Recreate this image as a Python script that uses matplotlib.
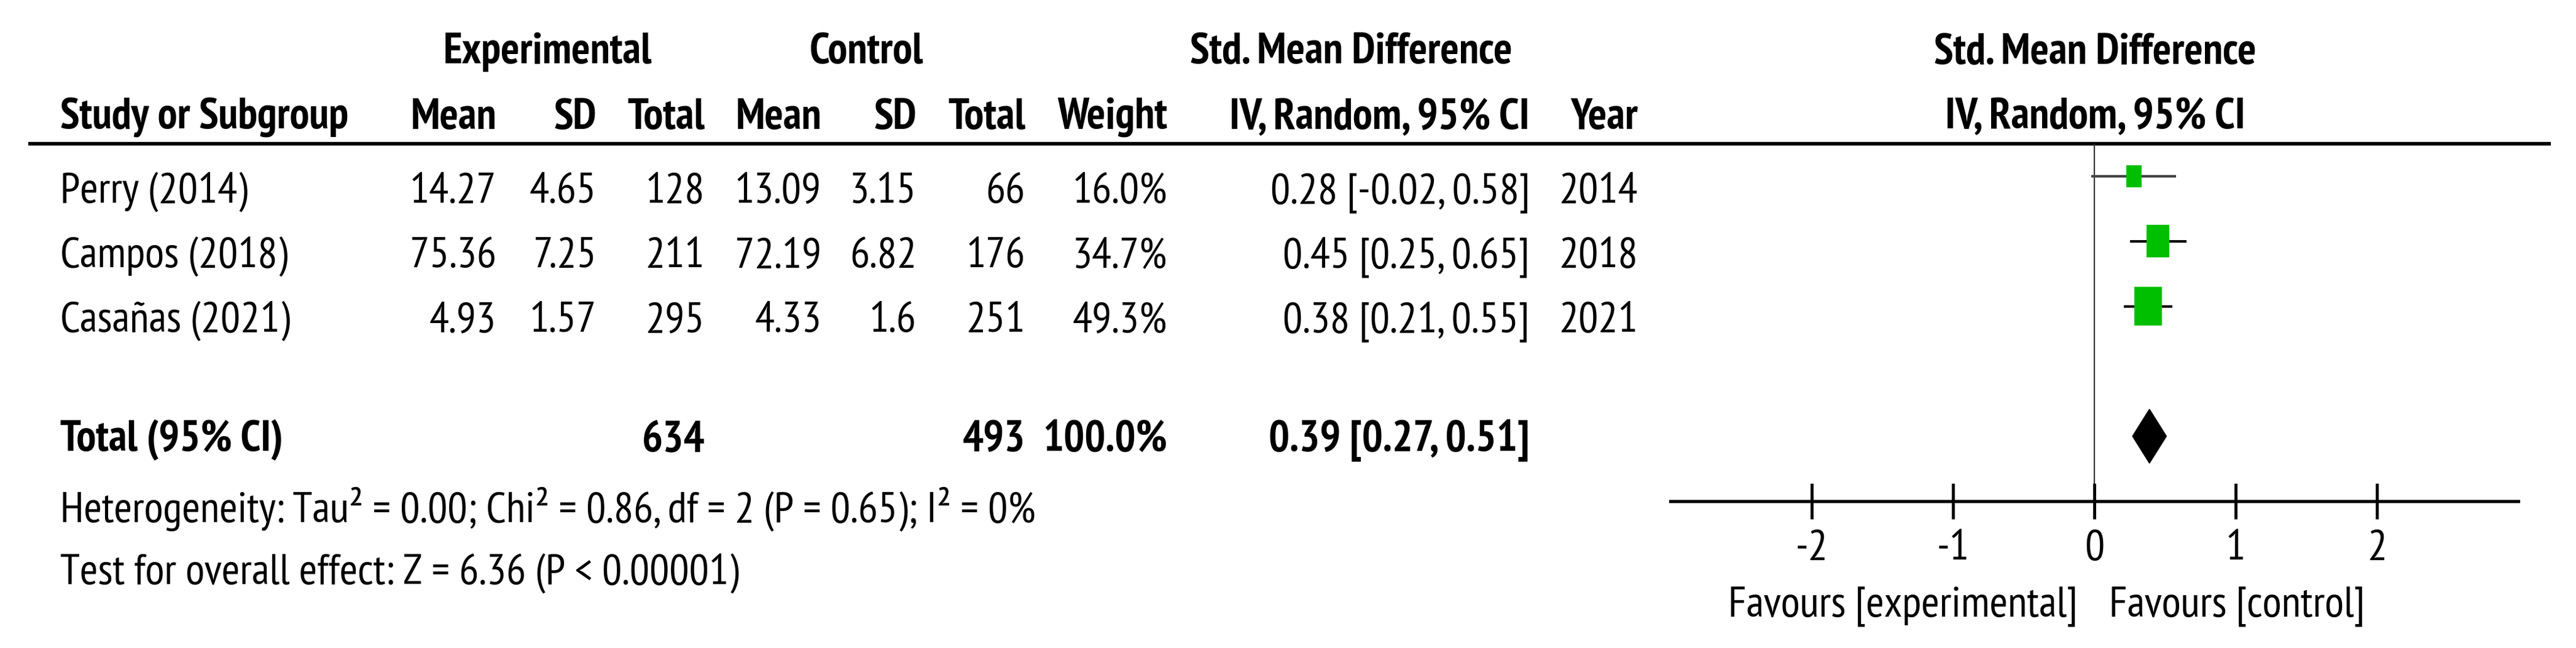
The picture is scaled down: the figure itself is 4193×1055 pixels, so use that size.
import matplotlib
matplotlib.use("Agg")
import matplotlib.pyplot as plt
from matplotlib.patches import Rectangle, Polygon

plt.rcParams['font.family'] = ['PT Sans Narrow', 'Roboto Condensed', 'DejaVu Sans']

# study data
studies = ['Perry (2014)', 'Campos (2018)', 'Casañas (2021)']
exp_mean = ['14.27', '75.36', '4.93']
exp_sd = ['4.65', '7.25', '1.57']
exp_n = [128, 211, 295]
ctl_mean = ['13.09', '72.19', '4.33']
ctl_sd = ['3.15', '6.82', '1.6']
ctl_n = [66, 176, 251]
weights = [16.0, 34.7, 49.3]
smd = [0.28, 0.45, 0.38]
ci_lo = [-0.02, 0.25, 0.21]
ci_hi = [0.58, 0.65, 0.55]
years = [2014, 2018, 2021]

total_exp = 634
total_ctl = 493
total_weight = 100.0
total_smd = 0.39
total_lo = 0.27
total_hi = 0.51

heterogeneity = 'Heterogeneity: Tau² = 0.00; Chi² = 0.86, df = 2 (P = 0.65); I² = 0%'
overall = 'Test for overall effect: Z = 6.36 (P < 0.00001)'
ticks = [-2, -1, 0, 1, 2]

W, H = 4193, 1055
fig = plt.figure(figsize=(W / 100, H / 100), dpi=100)

# table overlay in pixel coords
tab = fig.add_axes([0, 0, 1, 1])
tab.set_xlim(0, W)
tab.set_ylim(H, 0)
tab.axis('off')
tab.patch.set_visible(False)

# size the font so the heterogeneity line is as wide as in the reference
probe = tab.text(0, 0, heterogeneity, fontsize=50)
pw = probe.get_window_extent(fig.canvas.get_renderer()).width
probe.remove()
FS = 50 * 1590 / pw


def txt(x, y, s, ha='right', bold=False):
    tab.text(x, y, s, ha=ha, va='baseline', fontsize=FS,
             fontweight='bold' if bold else 'normal', color='black')


# column right edges
cols = [808, 971, 1147, 1337, 1492, 1669, 1900, 2490, 2666]

# headers
txt(891, 103, 'Experimental', ha='center', bold=True)
txt(1411, 103, 'Control', ha='center', bold=True)
txt(2199, 103, 'Std. Mean Difference', ha='center', bold=True)
txt(3410, 104, 'Std. Mean Difference', ha='center', bold=True)
txt(98, 210, 'Study or Subgroup', ha='left', bold=True)
for x, s in zip(cols, ['Mean', 'SD', 'Total', 'Mean', 'SD', 'Total', 'Weight',
                       'IV, Random, 95% CI', 'Year']):
    txt(x, 210, s, bold=True)
txt(3410, 209, 'IV, Random, 95% CI', ha='center', bold=True)

tab.plot([46, 4152], [234, 234], color='black', lw=4.2, solid_capstyle='butt')

# study rows
for i, name in enumerate(studies):
    y = 330 + 105 * i
    txt(98, y, name, ha='left')
    vals = [exp_mean[i], exp_sd[i], str(exp_n[i]), ctl_mean[i], ctl_sd[i],
            str(ctl_n[i]), f'{weights[i]:.1f}%',
            f'{smd[i]:.2f} [{ci_lo[i]:.2f}, {ci_hi[i]:.2f}]', str(years[i])]
    for x, s in zip(cols, vals):
        txt(x, y, s)

# total row
txt(98, 734, 'Total (95% CI)', ha='left', bold=True)
txt(cols[2], 734, str(total_exp), bold=True)
txt(cols[5], 734, str(total_ctl), bold=True)
txt(cols[6], 734, f'{total_weight:.1f}%', bold=True)
txt(cols[7], 734, f'{total_smd:.2f} [{total_lo:.2f}, {total_hi:.2f}]', bold=True)

txt(98, 850, heterogeneity, ha='left')
txt(98, 951, overall, ha='left')

# forest plot
left, right = 2719, 4099
top, bottom = 234, 816
fa = fig.add_axes([left / W, 1 - bottom / H, (right - left) / W, (bottom - top) / H])
fa.patch.set_visible(False)
fa.set_xlim(-3, 3)
fa.set_ylim(5, -0.5)
for sp in ['top', 'left', 'right']:
    fa.spines[sp].set_visible(False)
fa.spines['bottom'].set_linewidth(3.8)
fa.set_yticks([])
fa.set_xticks(ticks)
fa.set_xticklabels([str(t) for t in ticks], fontsize=FS)
fa.tick_params(axis='x', direction='inout', length=42, width=3.5, pad=12)

fa.axvline(0, color='#333333', lw=1.6, zorder=1)

px_x = (right - left) / 6.0      # pixels per unit
px_y = (bottom - top) / 5.5      # pixels per row
for i in range(len(studies)):
    col = '#444444' if i == 0 else 'black'
    fa.plot([ci_lo[i], ci_hi[i]], [i, i], color=col, lw=3.0, zorder=2,
            solid_capstyle='butt')
    w = 6.3 * weights[i] ** 0.5 / px_x
    h = 9.0 * weights[i] ** 0.5 / px_y
    fa.add_patch(Rectangle((smd[i] - w / 2, i - h / 2), w, h,
                           facecolor='#00bf00', edgecolor='none', zorder=3))

dh = 44 / px_y
fa.add_patch(Polygon([(total_lo, 4), (total_smd, 4 - dh), (total_hi, 4),
                      (total_smd, 4 + dh)], closed=True,
                     facecolor='black', edgecolor='black', zorder=3))

txt(3382, 1003, 'Favours [experimental]')
txt(3433, 1003, 'Favours [control]', ha='left')

fig.savefig('out.png', dpi=100)
